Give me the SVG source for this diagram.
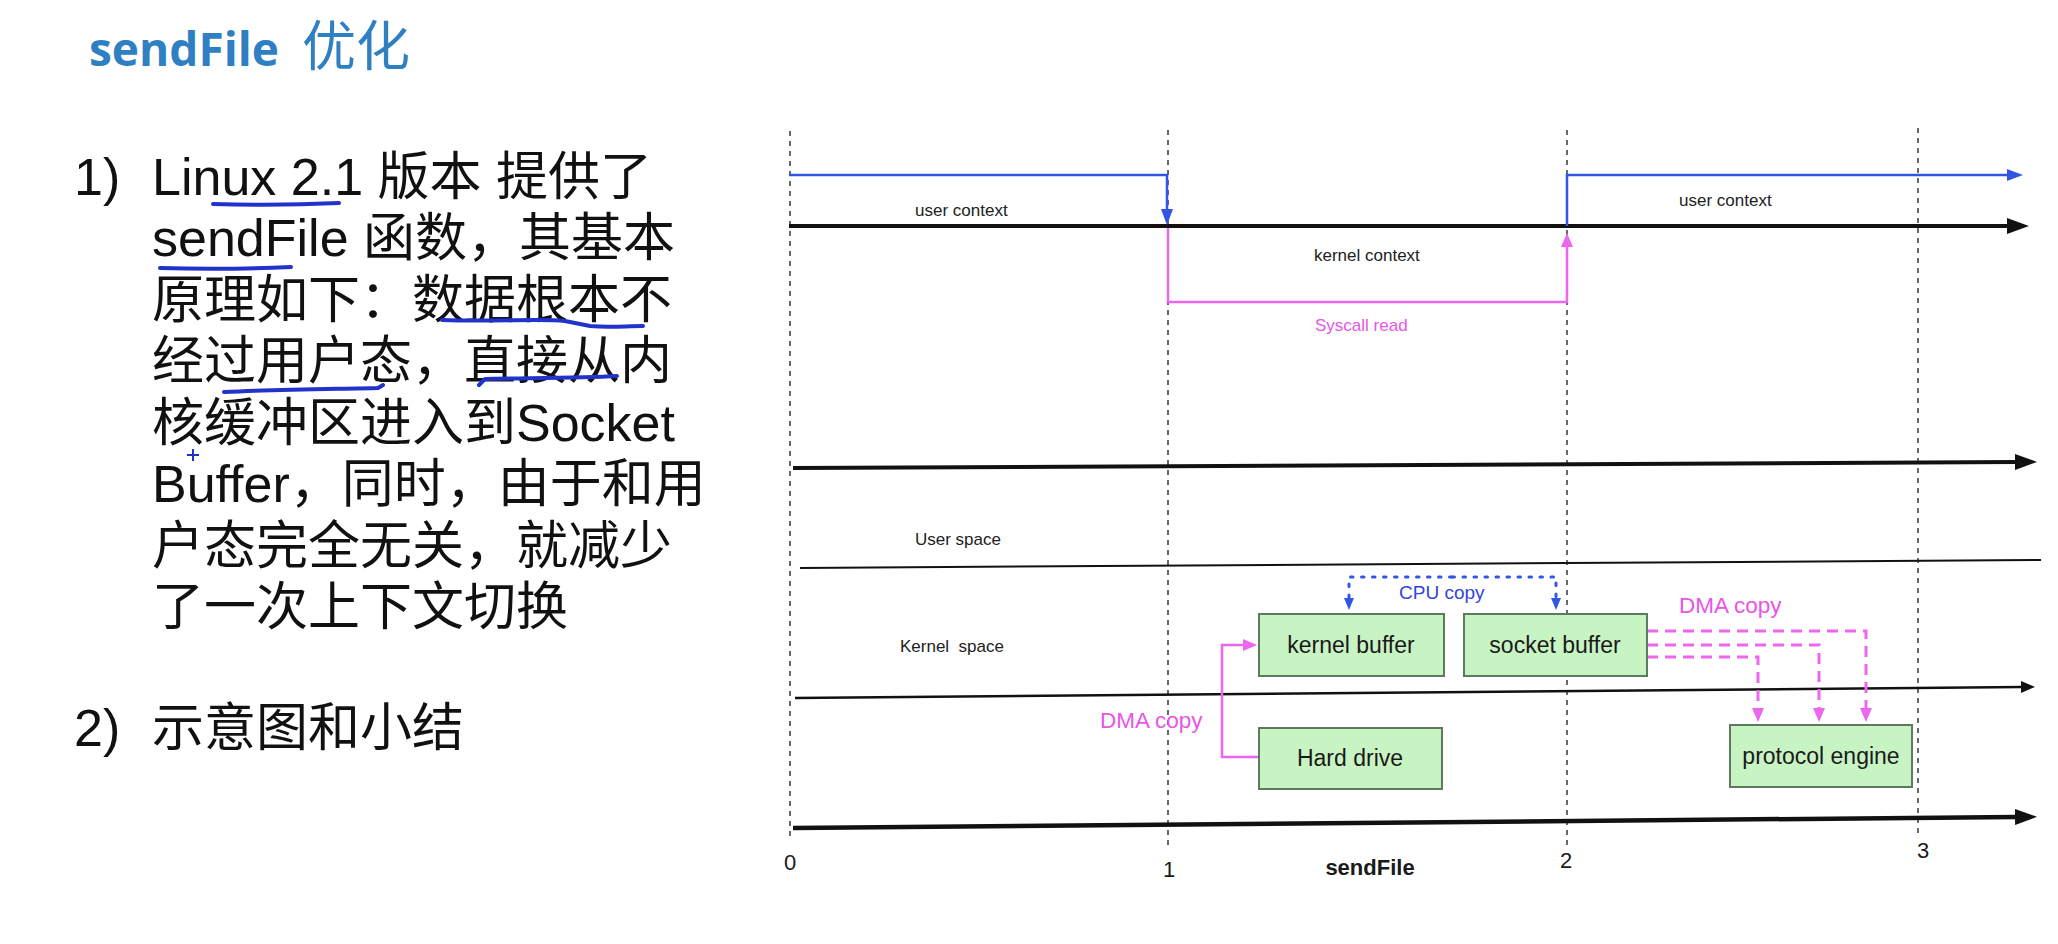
<svg xmlns="http://www.w3.org/2000/svg" width="2058" height="944" viewBox="0 0 2058 944">
<style>
.body{font-family:"Liberation Sans","Noto Sans CJK SC",sans-serif;font-size:52px;fill:#111}
.title{font-family:"Open Sans","Noto Sans CJK SC",sans-serif;font-weight:bold;font-size:46px;fill:#2f7fc3}
.lbl{font-family:"Liberation Sans",sans-serif;font-size:17px;fill:#222}
.box{fill:#c8f4c4;stroke:#5e7a5e;stroke-width:2}
.boxt{font-family:"Liberation Sans",sans-serif;font-size:23px;fill:#1a1a1a;text-anchor:middle}
.grid{stroke:#444;stroke-width:1.6;stroke-dasharray:5 5;fill:none}
.ul{stroke:#2233cc;stroke-width:4;fill:none;stroke-linecap:round;stroke-linejoin:round}
.blk{stroke:#111;fill:none}
.blue{stroke:#3355e6;stroke-width:2.5;fill:none}
.mag{stroke:#ee66ee;stroke-width:2.5;fill:none}
.magd{stroke:#ee66ee;stroke-width:3;fill:none;stroke-dasharray:11 7}
.cpu{stroke:#3355e6;stroke-width:3;fill:none;stroke-dasharray:2.5 8.5;stroke-linecap:round}
.axis{font-family:"Liberation Sans",sans-serif;font-size:22px;fill:#1a1a1a;text-anchor:middle}
</style>
<defs>
<marker id="ahBlk" markerUnits="userSpaceOnUse" markerWidth="22" markerHeight="16" refX="1" refY="8" orient="auto"><path d="M0,0 L22,8 L0,16 z" fill="#111"/></marker>
<marker id="ahBlkS" markerUnits="userSpaceOnUse" markerWidth="14" markerHeight="12" refX="1" refY="6" orient="auto"><path d="M0,0 L14,6 L0,12 z" fill="#111"/></marker>
<marker id="ahBlue" markerUnits="userSpaceOnUse" markerWidth="16" markerHeight="12" refX="1" refY="6" orient="auto"><path d="M0,0 L16,6 L0,12 z" fill="#3355e6"/></marker>
<marker id="ahBlueS" markerUnits="userSpaceOnUse" markerWidth="12" markerHeight="10" refX="1" refY="5" orient="auto"><path d="M0,0 L12,5 L0,10 z" fill="#3355e6"/></marker>
<marker id="ahMag" markerUnits="userSpaceOnUse" markerWidth="14" markerHeight="12" refX="1" refY="6" orient="auto"><path d="M0,0 L14,6 L0,12 z" fill="#ee66ee"/></marker>
</defs>
<rect width="2058" height="944" fill="#ffffff"/>

<g id="title">
<text class="title" x="89" y="66">sendFile<tspan x="302" font-weight="normal" font-family="Noto Sans CJK SC,sans-serif" font-size="54">优化</tspan></text>
</g>

<g id="text-body">
<text class="body" x="74" y="195">1)</text>
<text class="body" x="152" y="195">Linux 2.1 版本 提供了</text>
<text class="body" x="152" y="256">sendFile 函数，其基本</text>
<text class="body" x="152" y="318">原理如下：数据根本不</text>
<text class="body" x="152" y="379">经过用户态，直接从内</text>
<text class="body" x="152" y="441">核缓冲区进入到Socket</text>
<text class="body" x="152" y="502">Buffer，同时，由于和用</text>
<text class="body" x="152" y="564">户态完全无关，就减少</text>
<text class="body" x="152" y="625">了一次上下文切换</text>
<text class="body" x="74" y="746">2)</text>
<text class="body" x="152" y="746">示意图和小结</text>
</g>

<g id="annotations">
<path class="ul" d="M213,204 Q276,206 339,203"/>
<path class="ul" d="M160,268 Q225,270 291,267"/>
<path class="ul" d="M442,320 C500,322 540,318 565,321 L590,326 C610,328 625,326 643,326"/>
<path class="ul" d="M224,392 C280,389 340,389 378,388 L383,385"/>
<path class="ul" d="M479,385 L485,379 C530,378 580,378 617,376"/>
<path d="M187,455 H199 M193,449 V461" stroke="#2233cc" stroke-width="2" fill="none"/>
</g>

<g id="grid">
<line class="grid" x1="790" y1="131" x2="790" y2="840"/>
<line class="grid" x1="1168" y1="130" x2="1168" y2="850"/>
<line class="grid" x1="1567" y1="130" x2="1567" y2="845"/>
<line class="grid" x1="1918" y1="128" x2="1918" y2="835"/>
</g>

<g id="connectors">
<path class="blk" stroke-width="4" d="M789,226 L2008,226" marker-end="url(#ahBlk)"/>
<path class="blk" stroke-width="4" d="M793,468 L2016,462" marker-end="url(#ahBlk)"/>
<path class="blk" stroke-width="2" stroke="#333" d="M800,568 L2041,560"/>
<path class="blk" stroke-width="2.5" d="M795,698 L2022,687" marker-end="url(#ahBlkS)"/>
<path class="blk" stroke-width="4.5" d="M793,828 L2016,817" marker-end="url(#ahBlk)"/>
<path class="blue" d="M789,175 H1167 V210" marker-end="url(#ahBlue)"/>
<path class="blue" d="M1567,226 V175 H2008" marker-end="url(#ahBlue)"/>
<path class="mag" d="M1168,228 V302 H1567 V246" marker-end="url(#ahMag)"/>
<path class="cpu" d="M1452,577 H1349 V599" marker-end="url(#ahBlueS)"/>
<path class="cpu" d="M1452,577 H1556 V599" marker-end="url(#ahBlueS)"/>
<path class="mag" d="M1259,757 H1222 V645 H1244" marker-end="url(#ahMag)"/>
<path class="magd" d="M1647,631 H1866 V709" marker-end="url(#ahMag)"/>
<path class="magd" d="M1647,645 H1819 V709" marker-end="url(#ahMag)"/>
<path class="magd" d="M1647,657 H1758 V709" marker-end="url(#ahMag)"/>
</g>

<g id="labels">
<text class="lbl" x="915" y="216">user context</text>
<text class="lbl" x="1679" y="206">user context</text>
<text class="lbl" x="1314" y="261" font-size="17.5">kernel context</text>
<text class="lbl" x="1315" y="331" style="fill:#e855e8">Syscall read</text>
<text class="lbl" x="915" y="545">User space</text>
<text class="lbl" x="900" y="652" xml:space="preserve">Kernel  space</text>
<text class="lbl" x="1399" y="599" style="fill:#3344dd;font-size:19px">CPU copy</text>
<text class="lbl" x="1679" y="613" style="fill:#e855e8;font-size:22.5px">DMA copy</text>
<text class="lbl" x="1100" y="728" style="fill:#e855e8;font-size:22.5px">DMA copy</text>
<text class="axis" x="790" y="870">0</text>
<text class="axis" x="1169" y="877">1</text>
<text class="axis" x="1370" y="875" font-weight="bold" font-size="23">sendFile</text>
<text class="axis" x="1566" y="868">2</text>
<text class="axis" x="1923" y="858">3</text>
</g>

<g id="kernel-buffer">
<rect class="box" x="1259" y="614" width="185" height="62"/>
<text class="boxt" x="1351" y="653">kernel buffer</text>
</g>
<g id="socket-buffer">
<rect class="box" x="1464" y="614" width="183" height="62"/>
<text class="boxt" x="1555" y="653">socket buffer</text>
</g>
<g id="hard-drive">
<rect class="box" x="1259" y="728" width="183" height="61"/>
<text class="boxt" x="1350" y="766">Hard drive</text>
</g>
<g id="protocol-engine">
<rect class="box" x="1730" y="725" width="182" height="62"/>
<text class="boxt" x="1821" y="764">protocol engine</text>
</g>
</svg>
